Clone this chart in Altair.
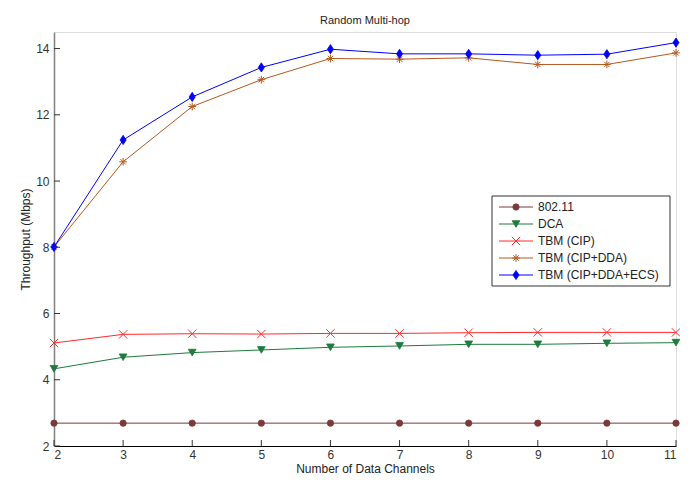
import altair as alt
import pandas as pd

# ---------------- data ----------------
channels = [2, 3, 4, 5, 6, 7, 8, 9, 10, 11]
series_names = ["802.11", "DCA", "TBM (CIP)", "TBM (CIP+DDA)", "TBM (CIP+DDA+ECS)"]
thr_80211 = [2.69, 2.69, 2.69, 2.69, 2.69, 2.69, 2.69, 2.69, 2.69, 2.69]
thr_dca = [4.33, 4.68, 4.82, 4.90, 4.98, 5.02, 5.07, 5.07, 5.10, 5.12]
thr_cip = [5.11, 5.37, 5.39, 5.38, 5.40, 5.40, 5.42, 5.43, 5.43, 5.43]
thr_dda = [8.01, 10.58, 12.25, 13.06, 13.70, 13.68, 13.72, 13.52, 13.52, 13.87]
thr_ecs = [8.01, 11.24, 12.54, 13.43, 13.98, 13.84, 13.84, 13.80, 13.83, 14.18]
y_ticks = [2, 4, 6, 8, 10, 12, 14]
x_ticks = [2, 3, 4, 5, 6, 7, 8, 9, 10, 11]

all_values = [thr_80211, thr_dca, thr_cip, thr_dda, thr_ecs]

# ---------------- styles ----------------
FONT = "Liberation Sans"
colors = ["#7B3A3A", "#1E7B3C", "#FF2A2A", "#B5581E", "#0000FF"]
shapes = [
    "circle",
    "triangle-down",
    "M-1,-1L1,1M1,-1L-1,1",
    "M-1,0L1,0M0,-1L0,1M-0.7,-0.7L0.7,0.7M-0.7,0.7L0.7,-0.7",
    "M0,-1L0.66,0L0,1L-0.66,0Z",
]
filled = [True, True, False, False, True]
sizes = [40, 60, 70, 60, 85]

W, H = 622, 414

rows = []
for name, vals in zip(series_names, all_values):
    for c, v in zip(channels, vals):
        rows.append({"series": name, "channels": c, "thr": v})
df = pd.DataFrame(rows)

xscale = alt.Scale(domain=[2, 11], nice=False, zero=False)
yscale = alt.Scale(domain=[2, 14.5], nice=False, zero=False)

x_enc = alt.X(
    "channels:Q",
    scale=xscale,
    axis=alt.Axis(
        values=x_ticks, title="Number of Data Channels", grid=False, tickSize=0,
        labelPadding=3, labelFontSize=12, labelFont=FONT, labelColor="#333333",
        titleFont=FONT, titleFontSize=12, titleFontWeight="normal", titleColor="#222222",
        titlePadding=3, domainColor="#000000", domainWidth=1, format="d",
    ),
)
y_enc = alt.Y(
    "thr:Q",
    scale=yscale,
    axis=alt.Axis(
        values=y_ticks, title="Throughput (Mbps)", grid=False, tickSize=0,
        labelPadding=5, labelFontSize=12, labelFont=FONT, labelColor="#333333",
        titleFont=FONT, titleFontSize=12, titleFontWeight="normal", titleColor="#222222",
        titlePadding=3, domainColor="#808080", domainWidth=1.5, format="d",
    ),
)

main_layers = []
for i, name in enumerate(series_names):
    d = df[df.series == name]
    base = alt.Chart(d).encode(x=x_enc, y=y_enc)
    main_layers.append(base.mark_line(color=colors[i], strokeWidth=1))
for i, name in enumerate(series_names):
    d = df[df.series == name]
    base = alt.Chart(d).encode(x=x_enc, y=y_enc)
    if filled[i]:
        pt = base.mark_point(shape=shapes[i], size=sizes[i], filled=True, fill=colors[i],
                             stroke=colors[i], strokeWidth=0.8, opacity=1)
    else:
        pt = base.mark_point(shape=shapes[i], size=sizes[i], filled=False, stroke=colors[i],
                             strokeWidth=1, opacity=1)
    main_layers.append(pt)

# inward ticks
ytick_df = pd.DataFrame({"thr": y_ticks})
xtick_df = pd.DataFrame({"channels": x_ticks})
main_layers.append(
    alt.Chart(ytick_df).mark_rule(color="#333333", strokeWidth=1).encode(
        y=alt.Y("thr:Q", scale=yscale), x=alt.value(0), x2=alt.value(6)
    )
)
main_layers.append(
    alt.Chart(xtick_df).mark_rule(color="#333333", strokeWidth=1).encode(
        x=alt.X("channels:Q", scale=xscale), y=alt.value(H), y2=alt.value(H - 6)
    )
)
main = alt.layer(*main_layers)

# ---------------- legend ----------------
leg_df = pd.DataFrame({"series": series_names, "idx": list(range(len(series_names)))})
leg_y = alt.Y("idx:Q", scale=alt.Scale(domain=[0, 4], range=[175, 243], zero=False, nice=False), axis=None)

leg_layers = [
    alt.Chart(pd.DataFrame({"a": [0]})).mark_rect(fill="white", stroke="#333333", strokeWidth=1).encode(
        x=alt.value(438), x2=alt.value(616), y=alt.value(164), y2=alt.value(254)
    )
]
for i, name in enumerate(series_names):
    d = leg_df[leg_df.series == name]
    b = alt.Chart(d).encode(y=leg_y)
    leg_layers.append(b.mark_rule(color=colors[i], strokeWidth=1).encode(x=alt.value(445), x2=alt.value(479)))
    if filled[i]:
        pt = b.mark_point(shape=shapes[i], size=sizes[i], filled=True, fill=colors[i],
                          stroke=colors[i], strokeWidth=0.8, opacity=1)
    else:
        pt = b.mark_point(shape=shapes[i], size=sizes[i], filled=False, stroke=colors[i],
                          strokeWidth=1, opacity=1)
    leg_layers.append(pt.encode(x=alt.value(462)))
    leg_layers.append(
        b.mark_text(align="left", baseline="middle", font=FONT, fontSize=12, color="#222222").encode(
            x=alt.value(484), text="series:N"
        )
    )
legend = alt.layer(*leg_layers)

chart = (
    alt.layer(main, legend)
    .resolve_scale(y="independent", x="independent")
    .properties(
        width=W,
        height=H,
        autosize=alt.AutoSizeParams(type="none"),
        padding={"left": 46, "top": 24, "right": 4, "bottom": 34},
        title=alt.TitleParams("Random Multi-hop", font=FONT, fontSize=11, fontWeight="normal",
                              color="#222222", offset=6),
    )
    .configure_view(stroke=None)
    .configure(background="white")
)

chart.save("out.html", embed_options={"renderer": "svg", "actions": False})
